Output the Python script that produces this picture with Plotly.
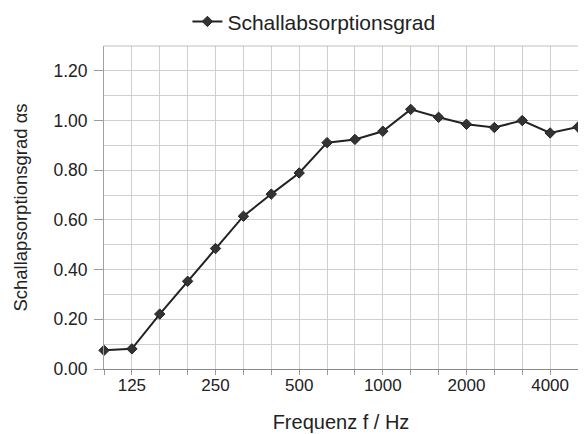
import plotly.graph_objects as go

frequencies = ["100", "125", "160", "200", "250", "315", "400", "500", "630", "800",
               "1000", "1250", "1600", "2000", "2500", "3150", "4000", "5000"]
absorption = [0.075, 0.081, 0.221, 0.353, 0.485, 0.615, 0.704, 0.789, 0.911, 0.924,
              0.957, 1.045, 1.013, 0.985, 0.972, 1.000, 0.950, 0.974]
labelled_ticks = ["125", "250", "500", "1000", "2000", "4000"]

tick_text = [f if f in labelled_ticks else "" for f in frequencies]

FONT = "Liberation Sans, Arial, sans-serif"
GRID = "#cfcfcf"

fig = go.Figure()
fig.add_trace(go.Scatter(
    x=frequencies, y=absorption, mode="lines+markers",
    name="Schallabsorptionsgrad",
    line=dict(color="#222222", width=2),
    marker=dict(symbol="diamond", size=8, color="#333333",
                line=dict(color="#222222", width=1)),
    cliponaxis=False,
))

fig.update_layout(
    width=578, height=426,
    margin=dict(l=96, r=8, t=38, b=65, autoexpand=False),
    paper_bgcolor="white", plot_bgcolor="white",
    font=dict(family=FONT, color="#222222"),
    showlegend=True,
    legend=dict(orientation="h", x=0.176, xanchor="left", y=1.075, yanchor="middle",
                font=dict(size=21, family=FONT, color="#222222"),
                bgcolor="rgba(0,0,0,0)"),
)

fig.update_xaxes(
    type="category", categoryorder="array", categoryarray=frequencies,
    range=[0, len(frequencies) - 1],
    tickmode="array", tickvals=frequencies, ticktext=tick_text,
    showgrid=True, gridcolor=GRID, gridwidth=1,
    showline=True, linecolor="#8a8a8a", linewidth=1.2, mirror=False,
    ticks="outside", ticklen=5, tickcolor="#9a9a9a",
    ticklabelstandoff=-5,
    tickfont=dict(size=17, family=FONT, color="#222222"),
    title=dict(text="Frequenz f / Hz", font=dict(size=20, family=FONT, color="#222222"),
               standoff=21),
    zeroline=False,
)

fig.update_yaxes(
    range=[0, 1.3], tick0=0, dtick=0.2, tickformat=".2f",
    showgrid=True, gridcolor=GRID, gridwidth=1,
    minor=dict(dtick=0.1, showgrid=True, gridcolor=GRID, gridwidth=1, ticks=""),
    showline=True, linecolor="#a0a0a0", linewidth=1, mirror=True,
    ticks="outside", ticklen=9, tickcolor="#9a9a9a",
    ticklabelstandoff=3,
    tickfont=dict(size=17.5, family=FONT, color="#222222"),
    title=dict(text="Schallapsorptionsgrad αs", font=dict(size=18.5, family=FONT, color="#222222"),
               standoff=20),
    zeroline=False,
)

fig.add_shape(type="line", xref="paper", yref="paper", x0=0, x1=1, y0=1, y1=1,
              line=dict(color="#c0c0c0", width=1))

fig.write_html("out.html")
